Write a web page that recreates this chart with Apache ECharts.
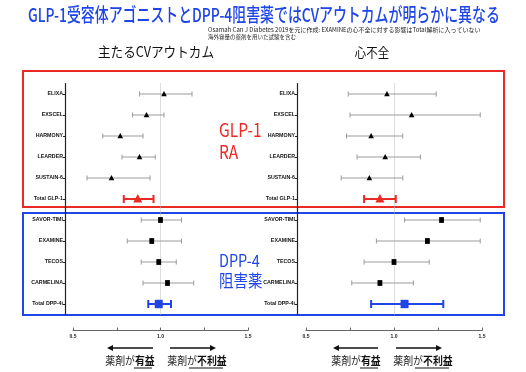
<!DOCTYPE html>
<html><head><meta charset="utf-8">
<script src="https://cdn.jsdelivr.net/npm/echarts@6/dist/echarts.min.js"></script>
<style>html,body{margin:0;padding:0;background:#fff}#c{width:526px;height:372px}</style>
</head><body><div id="c"></div>
<script>
const categories = ['ELIXA','EXSCEL','HARMONY','LEARDER','SUSTAIN-6','Total GLP-1','SAVOR-TIMI','EXAMINE','TECOS','CARMELINA','Total DPP-4i'];
// kind: 0 = GLP-1 trial (triangle), 1 = DPP-4 trial (square), 2 = GLP-1 total, 3 = DPP-4 total
const kinds = [0,0,0,0,0,2,1,1,1,1,3];
// 主たるCVアウトカム (hazard ratio, 95% CI)
const maceEst = [1.02,0.92,0.77,0.88,0.72,0.87,1.00,0.95,0.99,1.04,0.99];
const maceLo  = [0.88,0.84,0.67,0.78,0.58,0.79,0.89,0.81,0.89,0.90,0.93];
const maceHi  = [1.18,1.02,0.90,0.97,0.94,0.96,1.12,1.12,1.09,1.19,1.06];
// 心不全
const hfEst = [0.96,1.10,0.87,0.95,0.86,0.92,1.27,1.19,1.00,0.92,1.06];
const hfLo  = [0.74,0.75,0.73,0.79,0.70,0.83,1.06,0.90,0.83,0.76,0.87];
const hfHi  = [1.24,1.49,1.05,1.15,1.05,1.01,1.49,1.49,1.20,1.11,1.28];
const xTicks = [0.5,1.0,1.5];

const FONT = '"Noto Sans CJK JP"';
const RED = '#ea2b25', BLUE = '#1f45e6';

function rows(est, lo, hi){
  return categories.map((c,i)=>[i, lo[i], hi[i], est[i], kinds[i]]);
}
function renderItem(params, api){
  const cat = api.value(0), lo = api.value(1), hi = api.value(2), est = api.value(3), kind = api.value(4);
  const a = api.coord([lo, cat]), b = api.coord([hi, cat]), e = api.coord([est, cat]);
  const total = kind >= 2;
  const col = kind === 2 ? RED : (kind === 3 ? BLUE : '#9b9b9b');
  const lw = total ? 2 : 1;
  const cap = total ? 4 : 2.5;
  const children = [
    {type:'line', shape:{x1:a[0],y1:a[1],x2:b[0],y2:b[1]}, style:{stroke:col,lineWidth:lw}},
    {type:'line', shape:{x1:a[0],y1:a[1]-cap,x2:a[0],y2:a[1]+cap}, style:{stroke:col,lineWidth:lw}},
    {type:'line', shape:{x1:b[0],y1:b[1]-cap,x2:b[0],y2:b[1]+cap}, style:{stroke:col,lineWidth:lw}}
  ];
  const mcol = kind === 2 ? RED : (kind === 3 ? BLUE : '#000');
  if (kind === 0 || kind === 2){
    const s = kind === 2 ? 4.5 : 2.8;
    children.push({type:'polygon', shape:{points:[[e[0],e[1]-s*1.1],[e[0]-s,e[1]+s*0.8],[e[0]+s,e[1]+s*0.8]]}, style:{fill:mcol}});
  } else {
    const w = kind === 3 ? 4 : 2.4, h = kind === 3 ? 4.2 : 2.9;
    children.push({type:'rect', shape:{x:e[0]-w,y:e[1]-h,width:2*w,height:2*h}, style:{fill:mcol}});
  }
  return {type:'group', children};
}

function xAxis(gi){
  return {type:'value', gridIndex:gi, min:0.5, max:1.5, interval:0.25, position:'bottom', offset:16,
    axisLine:{show:true, lineStyle:{color:'#666', width:1}},
    axisTick:{show:true, inside:true, length:3, lineStyle:{color:'#666'}},
    axisLabel:{fontSize:5, fontWeight:'bold', color:'#222', margin:4, fontFamily:'Arial',
      formatter:v=> xTicks.some(t=>Math.abs(t-v)<1e-9) ? v.toFixed(1) : ''},
    splitLine:{show:false}};
}
function yAxis(gi, off){
  return {type:'category', gridIndex:gi, data:categories, inverse:true, offset:off,
    axisLine:{show:true, lineStyle:{color:'#222', width:1.2}},
    axisTick:{show:true, alignWithLabel:true, length:2, lineStyle:{color:'#222'}},
    axisLabel:{fontSize:5.3, fontWeight:'bold', color:'#111', margin:2, fontFamily:'Arial'},
    splitLine:{show:false}};
}
function refLine(gi){
  return {type:'line', xAxisIndex:gi, yAxisIndex:gi, data:[], silent:true,
    markLine:{silent:true, symbol:'none', label:{show:false},
      lineStyle:{color:'#bbb', type:'dotted', width:1}, data:[{xAxis:1}]}};
}

const chart = echarts.init(document.getElementById('c'), null, {renderer:'canvas'});

function arrow(x1, x2, y){
  const dir = x2 > x1 ? 1 : -1;
  return [
    {type:'line', shape:{x1:x1, y1:y, x2:x2 - dir*4, y2:y}, style:{stroke:'#111', lineWidth:1.5}},
    {type:'polygon', shape:{points:[[x2,y],[x2-dir*6,y-3],[x2-dir*6,y+3]]}, style:{fill:'#111'}}
  ];
}
function benefit(cx, y, bold, lineX1, lineX2){
  return [
    {type:'text', x:cx, y:y, scaleX:0.9, style:{text:'{a|薬剤が}{b|'+bold+'}', align:'center', verticalAlign:'middle',
      rich:{a:{fontSize:11, fontFamily:FONT, fill:'#222'}, b:{fontSize:11, fontFamily:FONT, fontWeight:'bold', fill:'#111'}}}},
    {type:'line', shape:{x1:lineX1, y1:y+7, x2:lineX2, y2:y+7}, style:{stroke:'#111', lineWidth:1}}
  ];
}

const graphics = [
  {type:'text', x:28, y:5, scaleX:0.732, style:{text:'GLP-1受容体アゴニストとDPP-4阻害薬ではCVアウトカムが明らかに異なる', font:'500 19px '+FONT, fill:BLUE}},
  {type:'text', x:208, y:27, style:{text:'Osamah Can J Diabetes 2019を元に作成: EXAMINEの心不全に対する影響はTotal解析に入っていない', font:'6px '+FONT, fill:'#222'}},
  {type:'text', x:208, y:34, style:{text:'海外容量の薬剤を用いた試験を含む', font:'5.5px '+FONT, fill:'#222'}},
  {type:'text', x:156, y:52, scaleX:0.9, style:{text:'主たるCVアウトカム', font:'14px '+FONT, fill:'#111', align:'center', verticalAlign:'middle'}},
  {type:'text', x:372, y:52, scaleX:0.88, style:{text:'心不全', font:'13px '+FONT, fill:'#111', align:'center', verticalAlign:'middle'}},
  {type:'rect', shape:{x:23, y:71, width:481, height:136}, style:{fill:'none', stroke:RED, lineWidth:2}},
  {type:'rect', shape:{x:23, y:213, width:481, height:102}, style:{fill:'none', stroke:BLUE, lineWidth:2}},
  {type:'text', x:219, y:119, scaleX:0.82, style:{text:'GLP-1\nRA', font:'19px '+FONT, fill:RED, lineHeight:22}},
  {type:'text', x:219, y:251, scaleX:0.85, style:{text:'DPP-4\n阻害薬', font:'17px '+FONT, fill:BLUE, lineHeight:20}},
  ...arrow(153, 107, 348), ...arrow(170, 216, 348),
  ...arrow(378, 333, 348), ...arrow(396, 442, 348),
  ...benefit(130, 361, '有益', 134, 152),
  ...benefit(197, 361, '不利益', 189, 223),
  ...benefit(356, 361, '有益', 360, 378),
  ...benefit(423, 361, '不利益', 415, 449)
];

chart.setOption({
  animation:false,
  backgroundColor:'#fff',
  textStyle:{fontFamily:FONT},
  grid:[
    {left:73, width:175, top:83.5, height:231},
    {left:306, width:176, top:83.5, height:231}
  ],
  xAxis:[xAxis(0), xAxis(1)],
  yAxis:[yAxis(0,8), yAxis(1,9)],
  series:[
    refLine(0), refLine(1),
    {type:'custom', xAxisIndex:0, yAxisIndex:0, renderItem, encode:{x:[1,2,3], y:0}, data:rows(maceEst, maceLo, maceHi), z:5},
    {type:'custom', xAxisIndex:1, yAxisIndex:1, renderItem, encode:{x:[1,2,3], y:0}, data:rows(hfEst, hfLo, hfHi), z:5}
  ],
  graphic:{elements:graphics}
});
</script>
</body></html>
